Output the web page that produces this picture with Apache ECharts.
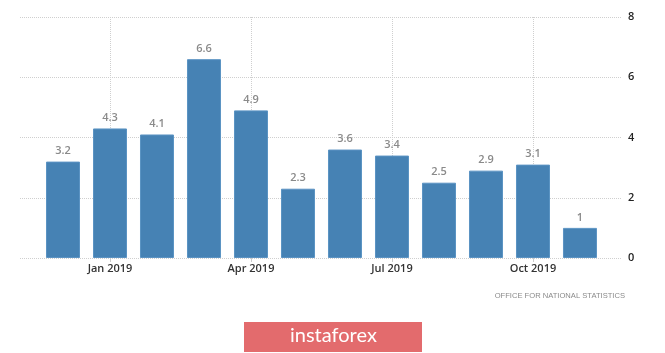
<!DOCTYPE html>
<html>
<head>
<meta charset="utf-8">
<script src="https://cdn.jsdelivr.net/npm/echarts@6/dist/echarts.min.js"></script>
<style>
  html, body { margin: 0; padding: 0; background: #fff; }
  #chart { width: 665px; height: 353px; }
</style>
</head>
<body>
<div id="chart"></div>
<script>
"use strict";

// months Dec 2018 .. Nov 2019
let months = ["Dec 2018", "Jan 2019", "Feb 2019", "Mar 2019", "Apr 2019", "May 2019",
              "Jun 2019", "Jul 2019", "Aug 2019", "Sep 2019", "Oct 2019", "Nov 2019"];
let values = [3.2, 4.3, 4.1, 6.6, 4.9, 2.3, 3.6, 3.4, 2.5, 2.9, 3.1, 1];
let tickMonths = [1, 4, 7, 10];
let yTicks = [0, 2, 4, 6, 8];
let sourceText = "OFFICE FOR NATIONAL STATISTICS";
let logoText = "instaforex";

let gridLine = { color: "#cfcfcf", type: [1, 1], width: 1 };

let chart = echarts.init(document.getElementById("chart"), null, { renderer: "canvas" });

chart.setOption({
    animation: false,
    backgroundColor: "#fff",
    grid: { left: 20, right: 43, top: 17, bottom: 95, containLabel: false },
    xAxis: {
        type: "value",
        min: -0.915,
        max: 11.894,
        axisLine: { show: false },
        axisTick: { show: true, customValues: tickMonths, length: 4, lineStyle: { color: "#ccc" } },
        axisLabel: {
            customValues: tickMonths,
            formatter: v => months[v],
            color: "#333",
            fontSize: 11,
            fontWeight: 600,
            fontFamily: "Open Sans",
            margin: 5
        },
        splitLine: { show: true, lineStyle: gridLine }
    },
    yAxis: {
        type: "value",
        position: "right",
        min: 0,
        max: 8,
        interval: 2,
        axisLine: { show: false },
        axisTick: { show: false },
        axisLabel: { color: "#222", fontSize: 11, fontWeight: 600, fontFamily: "Open Sans", margin: 6,
                     customValues: yTicks },
        splitLine: { show: true, lineStyle: gridLine }
    },
    series: [{
        type: "bar",
        barWidth: 34,
        data: values.map((v, i) => [i, v]),
        itemStyle: { color: "#4682B4", borderColor: "#5b93c3", borderWidth: 1 },
        label: {
            show: true,
            position: "top",
            distance: 5,
            color: "#8a8a8a",
            fontSize: 11,
            fontWeight: 600,
            fontFamily: "Open Sans"
        }
    }],
    graphic: [
        {
            type: "text",
            right: 40,
            top: 292,
            style: {
                text: sourceText,
                fill: "#8a8a8a",
                font: "7.6px 'Liberation Sans'"
            }
        },
        {
            type: "rect",
            left: 244,
            top: 322,
            shape: { width: 178, height: 30 },
            style: { fill: "#e36b6d" }
        },
        {
            type: "text",
            left: 290,
            top: 326,
            style: {
                text: logoText,
                fill: "#fff",
                font: "20px 'Lato'"
            }
        }
    ]
});
</script>
</body>
</html>
